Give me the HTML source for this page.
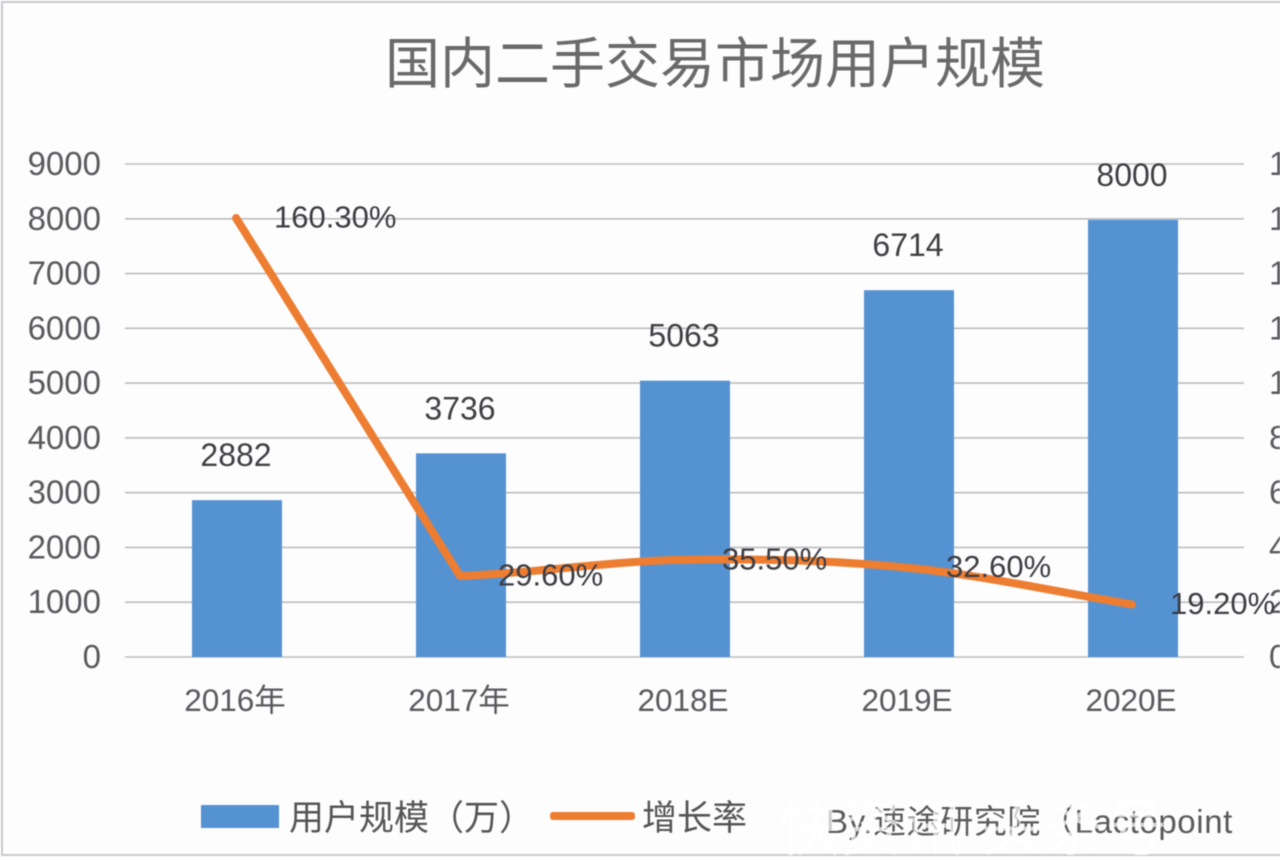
<!DOCTYPE html>
<html lang="zh">
<head>
<meta charset="utf-8">
<title>国内二手交易市场用户规模</title>
<style>
html,body{margin:0;padding:0;background:#fdfdfe;width:1280px;height:860px;overflow:hidden}
svg{display:block;filter:blur(.6px)}
text{font-family:"Liberation Sans","Noto Sans CJK SC",sans-serif}
</style>
</head>
<body>
<svg id="chart" xmlns="http://www.w3.org/2000/svg" width="1280" height="860" viewBox="0 0 1280 860">
  <rect x="2" y="2" width="1300" height="853" fill="#fdfdfe" stroke="#c9c9cc" stroke-width="2"/>
  <text x="715" y="83" text-anchor="middle" font-size="55" fill="#6a6a6a">国内二手交易市场用户规模</text>
  <g id="grid"></g>
  <g id="leftTicks"></g>
  <g id="rightTicks"></g>
  <g id="bars"></g>
  <g id="xLabels"></g>
  <g id="lineLayer"></g>
  <g id="barLabels"></g>
  <g id="lineLabels"></g>
  <g>
    <rect x="201" y="805" width="78" height="23" fill="#5592d2"/>
    <text x="289" y="830" font-size="35" fill="#555">用户规模（万）</text>
    <rect x="550" y="812" width="85" height="8" rx="3" fill="#ed7d31"/>
    <text x="642" y="830" font-size="35" fill="#555">增长率</text>
  </g>
  <text x="826" y="833" font-size="33" letter-spacing="0.6" fill="#5a5a5a">By.速途研究院（Lactopoint</text>
  <text x="778" y="850" font-size="62" fill="#ffffff" fill-opacity=".7">快资讯 头条号</text>
</svg>
<script>
const categories = ['2016年', '2017年', '2018E', '2019E', '2020E'];
const users = [2882, 3736, 5063, 6714, 8000];
const growth = [160.3, 29.6, 35.5, 32.6, 19.2];
const growthLabels = ['160.30%', '29.60%', '35.50%', '32.60%', '19.20%'];
const leftTickValues = [0, 1000, 2000, 3000, 4000, 5000, 6000, 7000, 8000, 9000];
const rightTickValues = [0, 20, 40, 60, 80, 100, 120, 140, 160, 180];

const NS = 'http://www.w3.org/2000/svg';
const plotBottom = 657, plotTop = 164, plotLeft = 125, plotRight = 1244;
const leftMax = 9000, rightMax = 180;
const bandStart = 125, bandWidth = 224, barWidth = 90;

function xCenter(i) { return bandStart + bandWidth * (i + 0.5); }
function yLeft(v) { return plotBottom - (v / leftMax) * (plotBottom - plotTop); }
function yRight(v) { return plotBottom - (v / rightMax) * (plotBottom - plotTop); }

function make(tag, attrs, parentId, content) {
  const el = document.createElementNS(NS, tag);
  for (const k in attrs) el.setAttribute(k, attrs[k]);
  if (content !== undefined) el.textContent = content;
  document.getElementById(parentId).appendChild(el);
  return el;
}

leftTickValues.forEach(function (v) {
  const y = yLeft(v);
  const line = make('line', { x1: plotLeft, x2: plotRight, y1: y, y2: y, stroke: '#bdbdbd', 'stroke-width': 1.6 }, 'grid');
  
  
  const t = make('text', { x: 101, y: y + 11, 'text-anchor': 'end', 'font-size': 33, fill: '#5a5a5e' }, 'leftTicks', String(v));
  
  
});

rightTickValues.forEach(function (v) {
  const t = make('text', { x: 1269, y: yRight(v) + 11, 'font-size': 33, fill: '#5a5a5e' }, 'rightTicks', v + '%');
  
  
});

categories.forEach(function (c, i) {
  const top = yLeft(users[i]);
  const bar = make('rect', { x: xCenter(i) - barWidth / 2, y: top + 1, width: barWidth, height: plotBottom - top - 1, fill: '#5592d2' }, 'bars');
  
  
  const lab = make('text', { x: xCenter(i) - 1, y: top - 33, 'text-anchor': 'middle', 'font-size': 32, fill: '#404044' }, 'barLabels', String(users[i]));
  
  
  const xl = make('text', { x: xCenter(i) - 2, y: 711, 'text-anchor': 'middle', 'font-size': 31.5, fill: '#5a5a5e' }, 'xLabels', c);
  
  
});

function tangent(i) {
  const last = growth.length - 1;
  if (i === last) return yRight(growth[i]) - yRight(growth[i - 1]);
  return (yRight(growth[i + 1]) - yRight(growth[i - 1 < 1 ? 1 : i - 1])) / 2;
}

let d = '';
growth.forEach(function (g, i) {
  const x = xCenter(i) - 1, y = yRight(g);
  if (i === 0) { d += 'M' + x + ' ' + y; }
  else if (i === 1) { d += ' L' + x + ' ' + y; }
  else {
    const px = xCenter(i - 1) - 1, py = yRight(growth[i - 1]);
    const w = (x - px) / 3;
    d += ' C' + (px + w) + ' ' + (py + tangent(i - 1) / 3) + ' ' + (x - w) + ' ' + (y - tangent(i) / 3) + ' ' + x + ' ' + y;
  }
  const lab = make('text', { x: x + 38, y: y + 9.5, 'font-size': 31, fill: '#3c3d42' }, 'lineLabels', growthLabels[i]);
  
  
});
const path = make('path', { d: d, fill: 'none', stroke: '#ed7d31', 'stroke-width': 8, 'stroke-linecap': 'round', 'stroke-linejoin': 'round' }, 'lineLayer');


</script>
</body>
</html>
